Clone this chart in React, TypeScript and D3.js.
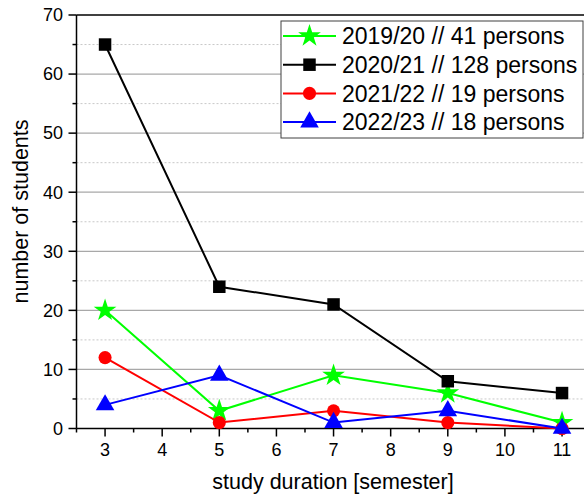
import React from "react";
import * as d3 from "d3";

const semesters = [3, 5, 7, 9, 11];
const seriesNames = ["2019/20 // 41 persons", "2020/21 // 128 persons", "2021/22 // 19 persons", "2022/23 // 18 persons"];
const values2019 = [20, 3, 9, 6, 1];
const values2020 = [65, 24, 21, 8, 6];
const values2021 = [12, 1, 3, 1, 0];
const values2022 = [4, 9, 1, 3, 0];
const xTicks = [3, 4, 5, 6, 7, 8, 9, 10, 11];
const yTicks = [0, 10, 20, 30, 40, 50, 60, 70];

const colors = ["#00ff00", "#000000", "#ff0000", "#0000ff"];
const symbols = [d3.symbolStar, d3.symbolSquare, d3.symbolCircle, d3.symbolTriangle];
const symSizes = [160, 156, 135, 150];

const W = 584;
const H = 495;
const FONT = "'Liberation Sans', Arial, sans-serif";

export default function App() {
  const x = d3.scaleLinear().domain([2.5, 11.5]).range([76.5, 590.6]);
  const y = d3.scaleLinear().domain([0, 70]).range([428.5, 15]);
  const allSeries = [values2019, values2020, values2021, values2022];
  const line = d3
    .line<number>()
    .x((_, i) => x(semesters[i]))
    .y((d) => y(d));
  const minorY = d3.range(5, 70, 10);
  const majorGrid = yTicks.filter((t) => t > 0 && t < 70);
  const minorX = d3.range(2.5, 11.6, 1);
  const right = W;

  const sym = (i: number) => d3.symbol().type(symbols[i]).size(symSizes[i])() as string;

  return (
    <svg width={W} height={H} style={{ position: "absolute", left: 0, top: 0 }} fontFamily={FONT}>
      <rect x={0} y={0} width={W} height={H} fill="#fff" />
      {minorY.map((t) => (
        <line key={"mg" + t} x1={x.range()[0]} x2={right} y1={y(t)} y2={y(t)} stroke="#c8c8c8" strokeWidth={1} strokeDasharray="2,2" />
      ))}
      {majorGrid.map((t) => (
        <line key={"Mg" + t} x1={x.range()[0]} x2={right} y1={y(t)} y2={y(t)} stroke="#a8a8a8" strokeWidth={1.2} />
      ))}
      <line x1={x.range()[0]} x2={right} y1={y(70)} y2={y(70)} stroke="#000" strokeWidth={1.5} />
      <line x1={x.range()[0]} x2={x.range()[0]} y1={y(70)} y2={y(0)} stroke="#000" strokeWidth={1.5} />
      <line x1={x.range()[0]} x2={right} y1={y(0)} y2={y(0)} stroke="#000" strokeWidth={1.5} />
      {yTicks.map((t) => (
        <g key={"yt" + t}>
          <line x1={x.range()[0] - 8} x2={x.range()[0]} y1={y(t)} y2={y(t)} stroke="#000" strokeWidth={1.5} />
          <text x={63} y={y(t) + 6.3} textAnchor="end" fontSize={18}>
            {t}
          </text>
        </g>
      ))}
      {minorY.map((t) => (
        <line key={"ymt" + t} x1={x.range()[0] - 4} x2={x.range()[0]} y1={y(t)} y2={y(t)} stroke="#000" strokeWidth={1.5} />
      ))}
      {xTicks.map((t) => (
        <g key={"xt" + t}>
          <line x1={x(t)} x2={x(t)} y1={y(0)} y2={y(0) + 8} stroke="#000" strokeWidth={1.5} />
          <text x={x(t)} y={456} textAnchor="middle" fontSize={18}>
            {t}
          </text>
        </g>
      ))}
      {minorX.map((t) => (
        <line key={"xmt" + t} x1={x(t)} x2={x(t)} y1={y(0)} y2={y(0) + 4} stroke="#000" strokeWidth={1.5} />
      ))}
      <text x={333} y={489} textAnchor="middle" fontSize={21.5}>
        study duration [semester]
      </text>
      <text transform={`translate(28,211.5) rotate(-90)`} textAnchor="middle" fontSize={21.5}>
        number of students
      </text>
      {allSeries.map((vals, si) => (
        <g key={"s" + si}>
          <path d={line(vals) as string} fill="none" stroke={colors[si]} strokeWidth={2} />
          {vals.map((v, i) => (
            <path key={i} d={sym(si)} transform={`translate(${x(semesters[i])},${y(v)})`} fill={colors[si]} />
          ))}
        </g>
      ))}
      <rect x={281} y={21} width={302} height={117} fill="#fff" stroke="#404040" strokeWidth={1} />
      {seriesNames.map((name, i) => {
        const cy = 36 + i * 28.7;
        return (
          <g key={"lg" + i}>
            <line x1={283} x2={336} y1={cy} y2={cy} stroke={colors[i]} strokeWidth={2} />
            <path d={sym(i)} transform={`translate(309.5,${cy})`} fill={colors[i]} />
            <text x={342} y={cy + 8.3} fontSize={23}>
              {name}
            </text>
          </g>
        );
      })}
    </svg>
  );
}
